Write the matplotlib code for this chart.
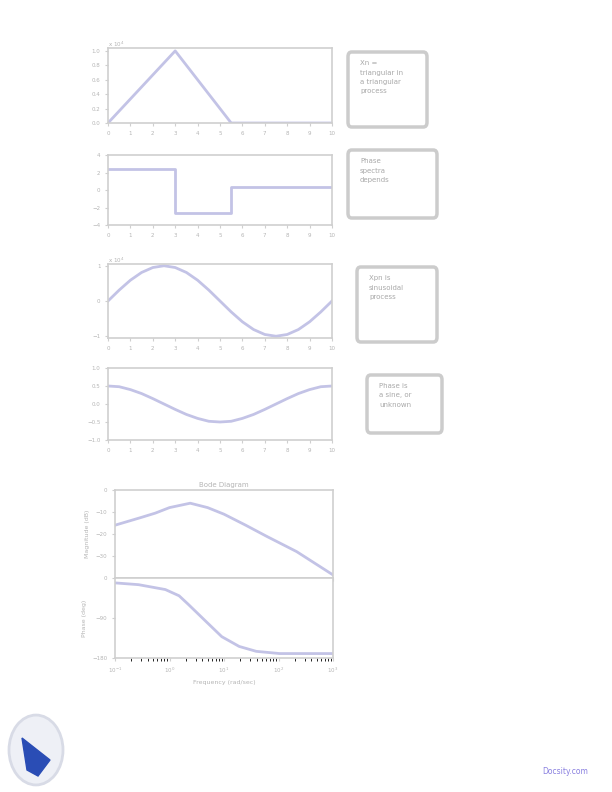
import matplotlib
matplotlib.use("Agg")
import matplotlib.pyplot as plt
from matplotlib.patches import Circle, Polygon, FancyBboxPatch

# Panel 1: triangular pulse
tri_t = [0, 3, 5.5, 10]
tri_x = [0, 1, 0, 0]

# Panel 2: step sequence
step_t = [0, 3, 3, 5.5, 5.5, 10]
step_x = [2.4, 2.4, -2.6, -2.6, 0.4, 0.4]

# Panel 3: sinusoid (read at 0.5 steps)
sin_t = [0, .5, 1, 1.5, 2, 2.5, 3, 3.5, 4, 4.5, 5, 5.5, 6, 6.5, 7, 7.5, 8, 8.5, 9, 9.5, 10]
sin_x = [0, .31, .59, .81, .95, 1, .95, .81, .59, .31, 0, -.31, -.59, -.81, -.95, -1,
         -.95, -.81, -.59, -.31, 0]

# Panel 4: shallow cosine
cos_t = sin_t
cos_x = [.5, .48, .40, .29, .15, 0, -.15, -.29, -.40, -.48, -.5, -.48, -.40, -.29, -.15,
         0, .15, .29, .40, .48, .5]

# Bode diagram
mag_f = [0.1, 0.3, 0.55, 1, 2.4, 5, 10, 25, 60, 215, 1000]
mag_db = [-16, -12.5, -10.5, -8, -6, -8, -11, -16, -21, -28, -38.6]
ph_f = [0.1, 0.27, 0.84, 1.5, 2.2, 4.6, 9.1, 19, 39, 105, 870, 1000]
ph_deg = [-11, -15, -26, -40, -59, -97, -132, -154, -165, -170, -170, -170]

notes = ["Xn =\ntriangular in\na triangular\nprocess",
         "Phase\nspectra\ndepends",
         "Xpn is\nsinusoidal\nprocess",
         "Phase is\na sine, or\nunknown"]

W, H = 612, 792
LINE = "#c3c3e6"
GRID = "#cfcfcf"
TXT = "#b5b5b5"

fig = plt.figure(figsize=(6.12, 7.92), dpi=100)


def rect(l, t, r, b):
    return [l / W, 1 - b / H, (r - l) / W, (b - t) / H]


def style(ax):
    for s in ax.spines.values():
        s.set_color(GRID)
        s.set_linewidth(1.2)
    ax.tick_params(colors=GRID, labelcolor=TXT, labelsize=4, length=2, width=0.8)


# four time-domain panels
panels = [
    ((108, 48, 332, 123), tri_t, tri_x, (0, 1.04), [0, .2, .4, .6, .8, 1]),
    ((108, 155, 332, 225), step_t, step_x, (-4, 4), [-4, -2, 0, 2, 4]),
    ((108, 264, 332, 338), sin_t, sin_x, (-1.05, 1.05), [-1, 0, 1]),
    ((108, 368, 332, 440), cos_t, cos_x, (-1, 1), [-1, -.5, 0, .5, 1]),
]
for i, (r, t, x, yl, yt) in enumerate(panels):
    ax = fig.add_axes(rect(*r))
    ax.plot(t, x, color=LINE, lw=2)
    ax.set_xlim(0, 10)
    ax.set_ylim(*yl)
    ax.set_xticks(range(11))
    ax.set_yticks(yt)
    style(ax)
    if i in (0, 2):
        ax.text(0, 1.01, r"x 10$^4$", transform=ax.transAxes, fontsize=4, color=TXT)

# note boxes
boxes = [(348, 52, 427, 127), (348, 150, 437, 218), (357, 267, 437, 342), (367, 375, 442, 433)]
for (l, t, r, b), s in zip(boxes, notes):
    fig.patches.append(FancyBboxPatch((l / W, 1 - b / H), (r - l) / W, (b - t) / H,
                                      boxstyle="round,pad=0,rounding_size=0.006",
                                      transform=fig.transFigure, fill=False,
                                      ec="#cccccc", lw=2.5))
    fig.text((l + 12) / W, 1 - (t + 8) / H, s, fontsize=5, color="#a8a8a8",
             va="top", ha="left", linespacing=1.7)

# Bode diagram
ax_m = fig.add_axes(rect(115, 490, 333, 578))
ax_m.semilogx(mag_f, mag_db, color=LINE, lw=2)
ax_m.set_xlim(0.1, 1000)
ax_m.set_ylim(-40, 0)
ax_m.set_yticks([-30, -20, -10, 0])
ax_m.set_xticklabels([])
ax_m.set_title("Bode Diagram", fontsize=5, color=TXT, pad=2)
ax_m.set_ylabel("Magnitude (dB)", fontsize=4.5, color=TXT)
style(ax_m)

ax_p = fig.add_axes(rect(115, 578, 333, 658))
ax_p.semilogx(ph_f, ph_deg, color=LINE, lw=2)
ax_p.set_xlim(0.1, 1000)
ax_p.set_ylim(-180, 0)
ax_p.set_yticks([-180, -90, 0])
ax_p.set_ylabel("Phase (deg)", fontsize=4.5, color=TXT)
ax_p.set_xlabel("Frequency (rad/sec)", fontsize=4.5, color=TXT)
style(ax_p)

# logo and footer
fig.patches.append(Circle((36 / W, 1 - 750 / H), 27 / W, transform=fig.transFigure,
                          fc="#eef0f6", ec="#d8dbe6", lw=2))
fig.patches.append(Polygon([(22 / W, 1 - 738 / H), (50 / W, 1 - 760 / H),
                            (38 / W, 1 - 776 / H), (27 / W, 1 - 770 / H)],
                           closed=True, transform=fig.transFigure,
                           fc="#2a4db5", ec="#2a4db5"))
fig.text(565 / W, 1 - 771 / H, "Docsity.com", fontsize=5.5, color="#8a80e0",
         ha="center", va="center")

fig.savefig("out.png", dpi=100)
